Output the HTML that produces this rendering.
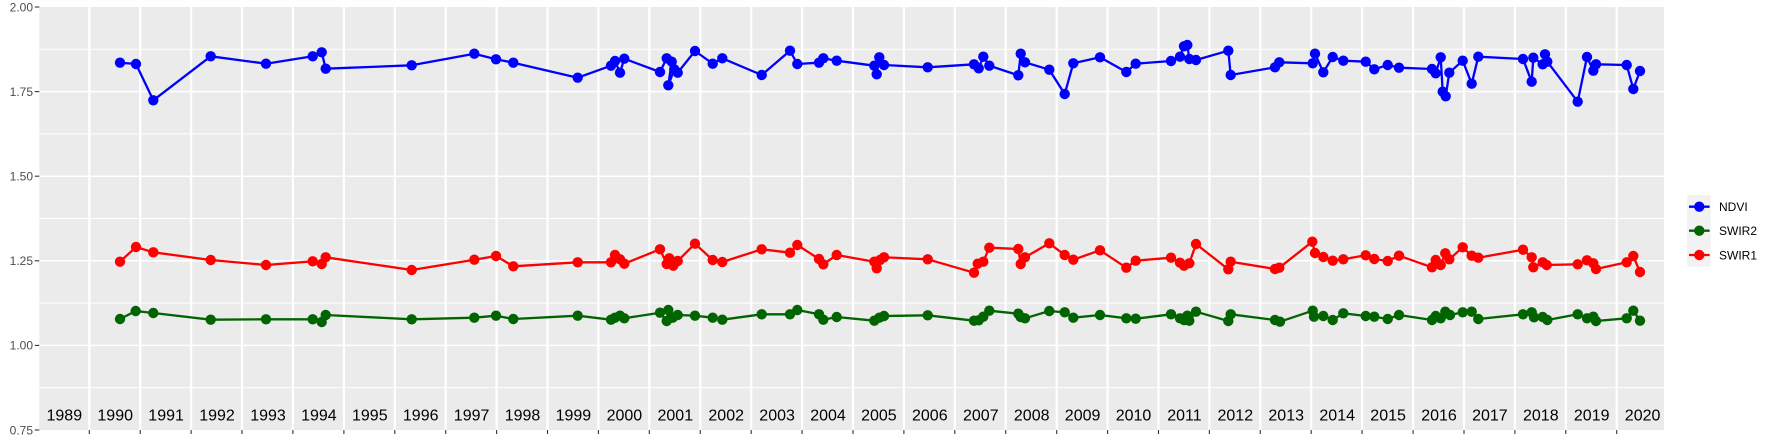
<!DOCTYPE html>
<html>
<head>
<meta charset="utf-8">
<style>
html,body{margin:0;padding:0;background:#fff;}
svg{display:block;}
text{font-family:"Liberation Sans",Arial,sans-serif;}
</style>
</head>
<body>
<svg width="1773" height="442" viewBox="0 0 1773 442" xmlns="http://www.w3.org/2000/svg">
<defs>
<marker id="mb" markerWidth="12" markerHeight="12" refX="6" refY="6" markerUnits="userSpaceOnUse"><circle cx="6" cy="6" r="5.2" fill="#0000ff"/></marker>
<marker id="mg" markerWidth="12" markerHeight="12" refX="6" refY="6" markerUnits="userSpaceOnUse"><circle cx="6" cy="6" r="5.2" fill="#006400"/></marker>
<marker id="mr" markerWidth="12" markerHeight="12" refX="6" refY="6" markerUnits="userSpaceOnUse"><circle cx="6" cy="6" r="5.2" fill="#ff0000"/></marker>
<clipPath id="pc"><rect x="39.3" y="7" width="1624.7" height="423"/></clipPath>
</defs>
<rect x="0" y="0" width="1773" height="442" fill="#fff"/>
<!-- panel -->
<rect x="39.3" y="7" width="1624.7" height="423" fill="#ebebeb"/>
<g stroke="#fff" fill="none">
<!-- minor horizontal -->
<g stroke-width="1">
<line x1="39.3" x2="1664" y1="49.3" y2="49.3"/>
<line x1="39.3" x2="1664" y1="133.9" y2="133.9"/>
<line x1="39.3" x2="1664" y1="218.5" y2="218.5"/>
<line x1="39.3" x2="1664" y1="303.1" y2="303.1"/>
<line x1="39.3" x2="1664" y1="387.7" y2="387.7"/>
</g>
<!-- major horizontal -->
<g stroke-width="1.5">
<line x1="39.3" x2="1664" y1="91.6" y2="91.6"/>
<line x1="39.3" x2="1664" y1="176.2" y2="176.2"/>
<line x1="39.3" x2="1664" y1="260.8" y2="260.8"/>
<line x1="39.3" x2="1664" y1="345.4" y2="345.4"/>
</g>
<!-- vertical -->
<g stroke-width="2.2">
<line y1="7" y2="430" x1="89.3" x2="89.3"/>
<line y1="7" y2="430" x1="140.2" x2="140.2"/>
<line y1="7" y2="430" x1="191.1" x2="191.1"/>
<line y1="7" y2="430" x1="242.0" x2="242.0"/>
<line y1="7" y2="430" x1="292.9" x2="292.9"/>
<line y1="7" y2="430" x1="343.9" x2="343.9"/>
<line y1="7" y2="430" x1="394.8" x2="394.8"/>
<line y1="7" y2="430" x1="445.7" x2="445.7"/>
<line y1="7" y2="430" x1="496.6" x2="496.6"/>
<line y1="7" y2="430" x1="547.5" x2="547.5"/>
<line y1="7" y2="430" x1="598.4" x2="598.4"/>
<line y1="7" y2="430" x1="649.3" x2="649.3"/>
<line y1="7" y2="430" x1="700.3" x2="700.3"/>
<line y1="7" y2="430" x1="751.2" x2="751.2"/>
<line y1="7" y2="430" x1="802.1" x2="802.1"/>
<line y1="7" y2="430" x1="853.0" x2="853.0"/>
<line y1="7" y2="430" x1="903.9" x2="903.9"/>
<line y1="7" y2="430" x1="954.8" x2="954.8"/>
<line y1="7" y2="430" x1="1005.7" x2="1005.7"/>
<line y1="7" y2="430" x1="1056.7" x2="1056.7"/>
<line y1="7" y2="430" x1="1107.6" x2="1107.6"/>
<line y1="7" y2="430" x1="1158.5" x2="1158.5"/>
<line y1="7" y2="430" x1="1209.4" x2="1209.4"/>
<line y1="7" y2="430" x1="1260.3" x2="1260.3"/>
<line y1="7" y2="430" x1="1311.2" x2="1311.2"/>
<line y1="7" y2="430" x1="1362.1" x2="1362.1"/>
<line y1="7" y2="430" x1="1413.1" x2="1413.1"/>
<line y1="7" y2="430" x1="1464.0" x2="1464.0"/>
<line y1="7" y2="430" x1="1514.9" x2="1514.9"/>
<line y1="7" y2="430" x1="1565.8" x2="1565.8"/>
<line y1="7" y2="430" x1="1616.7" x2="1616.7"/>
</g>
</g>

<!-- year labels -->
<g font-size="16" fill="#000" text-anchor="middle">
<text x="64.3" y="420.5">1989</text>
<text x="115.2" y="420.5">1990</text>
<text x="166.1" y="420.5">1991</text>
<text x="217.0" y="420.5">1992</text>
<text x="268.0" y="420.5">1993</text>
<text x="318.9" y="420.5">1994</text>
<text x="369.8" y="420.5">1995</text>
<text x="420.7" y="420.5">1996</text>
<text x="471.6" y="420.5">1997</text>
<text x="522.5" y="420.5">1998</text>
<text x="573.4" y="420.5">1999</text>
<text x="624.4" y="420.5">2000</text>
<text x="675.3" y="420.5">2001</text>
<text x="726.2" y="420.5">2002</text>
<text x="777.1" y="420.5">2003</text>
<text x="828.0" y="420.5">2004</text>
<text x="878.9" y="420.5">2005</text>
<text x="929.8" y="420.5">2006</text>
<text x="980.8" y="420.5">2007</text>
<text x="1031.7" y="420.5">2008</text>
<text x="1082.6" y="420.5">2009</text>
<text x="1133.5" y="420.5">2010</text>
<text x="1184.4" y="420.5">2011</text>
<text x="1235.3" y="420.5">2012</text>
<text x="1286.2" y="420.5">2013</text>
<text x="1337.2" y="420.5">2014</text>
<text x="1388.1" y="420.5">2015</text>
<text x="1439.0" y="420.5">2016</text>
<text x="1489.9" y="420.5">2017</text>
<text x="1540.8" y="420.5">2018</text>
<text x="1591.7" y="420.5">2019</text>
<text x="1642.6" y="420.5">2020</text>
</g>

<!-- series -->
<g fill="none" stroke-width="2.3" stroke-linejoin="round" clip-path="url(#pc)">
<polyline stroke="#0000ff" marker-start="url(#mb)" marker-mid="url(#mb)" marker-end="url(#mb)" points="120,62.7 136,64 153.3,100.3 210.7,56.3 266,63.7 312.7,56.3 321.7,52.3 325.7,68.7 411.7,65.3 474.3,53.7 496,59.3 513.3,62.7 577.7,77.7 611,65.7 615,61 620,72.7 624.3,58.7 660,72 666.7,58.3 671.7,61.7 668.3,85.3 674.3,69.3 677.7,72.7 695,51 712.7,63.7 722.3,58.3 761.7,75 790,50.7 797.3,64 819,62.7 823.3,58.3 836.7,60.7 874.3,65.7 876.7,74.3 879.3,57.3 884,65 927.7,67.3 974,64.3 978.7,68.3 983.3,56.7 989.3,65.7 1018.3,75.3 1020.7,53.7 1025,62.3 1049.3,69.7 1064.7,94 1073.3,63.3 1100,57.3 1126.3,72 1135.7,63.7 1171,61 1180,56.7 1184,46.3 1187.3,45 1189.3,59 1196,60 1228.3,50.7 1230.7,75 1275,67.3 1279.3,62.3 1312.7,63.3 1315,53.7 1323.3,72.3 1332.7,57 1343.3,60.7 1365.7,61.7 1374.3,69.3 1387.7,65 1399,67.7 1432,69 1435.7,73.3 1440.7,57.3 1442.7,91.7 1445.7,96.3 1449.3,72.7 1462.7,60.7 1471.7,83.7 1478.3,56.7 1523,59 1531.7,81.7 1533.3,57.7 1542.7,64.3 1545,54.3 1547.3,61.7 1577.7,101.7 1587,57 1593.3,70.7 1596,64.3 1626.7,65 1633.3,89 1640,71"/>
<polyline stroke="#006400" marker-start="url(#mg)" marker-mid="url(#mg)" marker-end="url(#mg)" points="120,319 135.7,311 153.3,313 210.7,319.7 266,319.3 312.7,319.3 321.7,322 325.7,315 411.7,319.3 474.3,317.7 496,315.7 513.3,319 577.7,315.7 611,319.7 615,317.7 620,315.7 624.3,318.3 660,312.7 666.7,321 668.3,310 672.7,317.7 677.7,315 695,315.7 712.7,317.7 722.3,319.7 761.7,314.3 790,314.3 797.3,310 819,314.3 823.3,319.7 836.7,317 874.3,320.7 879.3,317.7 884,316 927.7,315.3 974,320.7 978.7,320.3 983.3,316.7 989.3,310.7 1018.3,313.7 1020.7,317 1025,318.3 1049.3,311 1064.7,312.3 1073.3,317.7 1100,315 1126.3,318.3 1135.7,318.7 1171,314.3 1180,318.3 1184,320 1187.3,315.7 1189.3,320.7 1196,311.7 1228.3,321 1230.7,314.3 1275,320 1280,321.7 1312.7,310.7 1314,316.7 1323.3,316 1332.7,320 1343.3,313.3 1365.7,316 1374.3,316.7 1387.7,319 1399,315 1432,320 1435.7,316 1440.7,318.3 1445.3,311.7 1450,315 1462.7,312.3 1471.7,311.7 1478.3,319 1523,314.3 1531.7,312.3 1534,317.3 1542.7,317 1547.3,320 1577.7,314.3 1587,318.3 1593.3,316.7 1596,321 1626.7,318.3 1633.3,310.7 1640,320.7"/>
<polyline stroke="#ff0000" marker-start="url(#mr)" marker-mid="url(#mr)" marker-end="url(#mr)" points="120,261.7 136,247 153.3,252.3 210.7,260 266,265 312.7,261.3 321.7,264 325.7,257.3 411.7,270 474.3,259.7 496,256 513.3,266.3 577.7,262.3 611,262.3 615,255 620,259.3 624.3,263.7 660,249.3 666.7,264 669.3,258.3 673.3,265.7 677.7,261 695,243.7 712.7,260 722.3,262 761.7,249.3 790,252.7 797.3,245 819,259 823.3,264.3 836.7,255 874.3,261.7 876.7,268.3 880,260 884,257.3 927.7,259.3 974,272.7 977.7,263.7 983.3,261.7 989.3,247.7 1018.3,249 1020.7,264 1025,257.3 1049.3,243.3 1064.7,255 1073.3,259.7 1100,250.3 1126.3,267.7 1135.7,260.7 1171,257.7 1180,262.7 1184,265.7 1189.3,263.3 1196,244 1228.3,269.3 1230.7,261.7 1275,269 1279.3,267.7 1312.3,241.7 1315,253 1323.3,257 1332.7,260.7 1343.3,259.3 1365.7,255.3 1374.3,259 1387.7,261 1399,255.7 1432,267.3 1435.7,260 1440.7,265 1445.3,253.3 1449.3,259.3 1462.7,247.3 1471.7,255.7 1478.3,257.7 1523,249.7 1531.7,257.3 1533.3,267.3 1542.7,262.3 1546.7,265 1577.7,264.3 1587,260.3 1593.3,263.3 1596,269 1626.7,262.3 1633.3,256 1640,272"/>
</g>

<!-- y axis ticks and labels -->
<g stroke="#333" stroke-width="1.1">
<line x1="34.8" x2="39.3" y1="7" y2="7"/>
<line x1="34.8" x2="39.3" y1="91.6" y2="91.6"/>
<line x1="34.8" x2="39.3" y1="176.2" y2="176.2"/>
<line x1="34.8" x2="39.3" y1="260.8" y2="260.8"/>
<line x1="34.8" x2="39.3" y1="345.4" y2="345.4"/>
<line x1="34.8" x2="39.3" y1="430" y2="430"/>
</g>
<g font-size="12" fill="#4d4d4d" text-anchor="end">
<text x="33" y="11.3">2.00</text>
<text x="33" y="95.9">1.75</text>
<text x="33" y="180.5">1.50</text>
<text x="33" y="265.1">1.25</text>
<text x="33" y="349.7">1.00</text>
<text x="33" y="434.3">0.75</text>
</g>
<!-- x axis ticks -->
<g stroke="#333" stroke-width="1.1">
<line y1="430" y2="434" x1="89.3" x2="89.3"/>
<line y1="430" y2="434" x1="140.2" x2="140.2"/>
<line y1="430" y2="434" x1="191.1" x2="191.1"/>
<line y1="430" y2="434" x1="242.0" x2="242.0"/>
<line y1="430" y2="434" x1="292.9" x2="292.9"/>
<line y1="430" y2="434" x1="343.9" x2="343.9"/>
<line y1="430" y2="434" x1="394.8" x2="394.8"/>
<line y1="430" y2="434" x1="445.7" x2="445.7"/>
<line y1="430" y2="434" x1="496.6" x2="496.6"/>
<line y1="430" y2="434" x1="547.5" x2="547.5"/>
<line y1="430" y2="434" x1="598.4" x2="598.4"/>
<line y1="430" y2="434" x1="649.3" x2="649.3"/>
<line y1="430" y2="434" x1="700.3" x2="700.3"/>
<line y1="430" y2="434" x1="751.2" x2="751.2"/>
<line y1="430" y2="434" x1="802.1" x2="802.1"/>
<line y1="430" y2="434" x1="853.0" x2="853.0"/>
<line y1="430" y2="434" x1="903.9" x2="903.9"/>
<line y1="430" y2="434" x1="954.8" x2="954.8"/>
<line y1="430" y2="434" x1="1005.7" x2="1005.7"/>
<line y1="430" y2="434" x1="1056.7" x2="1056.7"/>
<line y1="430" y2="434" x1="1107.6" x2="1107.6"/>
<line y1="430" y2="434" x1="1158.5" x2="1158.5"/>
<line y1="430" y2="434" x1="1209.4" x2="1209.4"/>
<line y1="430" y2="434" x1="1260.3" x2="1260.3"/>
<line y1="430" y2="434" x1="1311.2" x2="1311.2"/>
<line y1="430" y2="434" x1="1362.1" x2="1362.1"/>
<line y1="430" y2="434" x1="1413.1" x2="1413.1"/>
<line y1="430" y2="434" x1="1464.0" x2="1464.0"/>
<line y1="430" y2="434" x1="1514.9" x2="1514.9"/>
<line y1="430" y2="434" x1="1565.8" x2="1565.8"/>
<line y1="430" y2="434" x1="1616.7" x2="1616.7"/>
</g>

<!-- legend -->
<rect x="1687.3" y="195" width="23.4" height="71.7" fill="#f2f2f2"/>
<g stroke-width="2.3">
<line x1="1689" x2="1709.6" y1="206.7" y2="206.7" stroke="#0000ff"/>
<line x1="1689" x2="1709.6" y1="230.7" y2="230.7" stroke="#006400"/>
<line x1="1689" x2="1709.6" y1="255" y2="255" stroke="#ff0000"/>
</g>
<circle cx="1699.3" cy="206.7" r="5.2" fill="#0000ff"/>
<circle cx="1699.3" cy="230.7" r="5.2" fill="#006400"/>
<circle cx="1699.3" cy="255" r="5.2" fill="#ff0000"/>
<g font-size="12" fill="#000">
<text x="1719" y="211">NDVI</text>
<text x="1719" y="235">SWIR2</text>
<text x="1719" y="259.3">SWIR1</text>
</g>
</svg>
</body>
</html>
